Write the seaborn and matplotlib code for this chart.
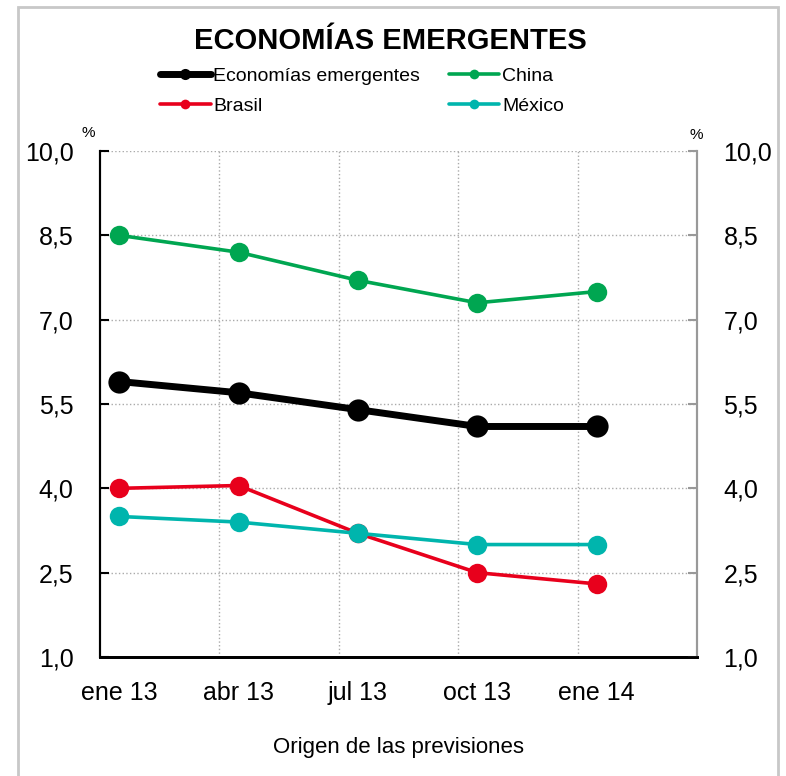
import pandas as pd
import matplotlib
matplotlib.use('Agg')
import matplotlib.pyplot as plt
import seaborn as sns
from matplotlib.patches import Rectangle
from matplotlib.ticker import FixedLocator

## --- datos (previsiones de crecimiento 2014, %)
fechas = ['ene 13', 'abr 13', 'jul 13', 'oct 13', 'ene 14']
emergentes = [5.9, 5.7, 5.4, 5.1, 5.1]
china = [8.5, 8.2, 7.7, 7.3, 7.5]
brasil = [4.0, 4.05, 3.2, 2.5, 2.3]
mexico = [3.5, 3.4, 3.2, 3.0, 3.0]

y_ticks = [1.0, 2.5, 4.0, 5.5, 7.0, 8.5, 10.0]

dados = pd.DataFrame({
    'pos': range(len(fechas)),
    'Economías emergentes': emergentes,
    'China': china,
    'Brasil': brasil,
    'México': mexico,
})

sns.set_style('white')
plt.rcParams['font.family'] = ['Liberation Sans', 'DejaVu Sans']
plt.rcParams['text.color'] = 'black'
plt.rcParams['xtick.color'] = 'black'
plt.rcParams['ytick.color'] = 'black'
plt.rcParams['axes.labelcolor'] = 'black'

fig = plt.figure(figsize=(7.86, 7.76), dpi=100)
ax = fig.add_axes([100 / 786, 1 - 657 / 776, 597 / 786, 506 / 776])

# estilo de cada serie
estilos = {
    'Economías emergentes': dict(color='black', linewidth=5, markersize=16),
    'China': dict(color='#00A651', linewidth=2.6, markersize=14),
    'Brasil': dict(color='#E8001C', linewidth=2.6, markersize=14),
    'México': dict(color='#00B5AD', linewidth=2.6, markersize=14),
}

for serie, est in estilos.items():
    sns.lineplot(
        data=dados, x='pos', y=serie, ax=ax,
        marker='o', markeredgewidth=0, label=serie, legend=False,
        **est
    )

## --- ejes
etiquetas_y = [f'{v:.1f}'.replace('.', ',') for v in y_ticks]

ax.set_xlim(-0.16, 4.84)
ax.set_ylim(1, 10)
ax.set_xticks(range(len(fechas)))
ax.set_xticklabels(fechas, fontsize=18)
ax.xaxis.set_minor_locator(FixedLocator([0.84, 1.84, 2.84, 3.84]))
ax.set_yticks(y_ticks)
ax.set_yticklabels(etiquetas_y, fontsize=18)
ax.set_xlabel('Origen de las previsiones', fontsize=16, labelpad=23)
ax.set_ylabel('')

ax.tick_params(axis='x', which='both', length=0, pad=17)
ax.tick_params(axis='y', direction='in', length=6.5, width=1.5,
               left=True, right=False, pad=19)

# eje derecho (gris) con las mismas etiquetas
ax2 = ax.twinx()
ax2.set_ylim(1, 10)
ax2.set_yticks(y_ticks)
ax2.set_yticklabels(etiquetas_y, fontsize=18)
ax2.tick_params(axis='y', direction='in', length=6.5, width=1.5,
                color='#999999', labelcolor='black', pad=19)
ax2.grid(False)

ax.grid(axis='y', which='major', linestyle=':', color='#aaaaaa', linewidth=1)
ax.grid(axis='x', which='minor', linestyle=':', color='#aaaaaa', linewidth=1)
ax.grid(axis='x', which='major', visible=False)

for a in (ax, ax2):
    a.spines['top'].set_visible(False)
    a.spines['left'].set_color('black')
    a.spines['left'].set_linewidth(1.5)
    a.spines['bottom'].set_color('black')
    a.spines['bottom'].set_linewidth(2)
    a.spines['right'].set_color('#999999')
    a.spines['right'].set_linewidth(1.5)

fig.text(88 / 786, 1 - 133 / 776, '%', fontsize=11, ha='center', va='center')
fig.text(696 / 786, 1 - 135 / 776, '%', fontsize=11, ha='center', va='center')

## --- titulo y leyenda
fig.text(390 / 786, 1 - 41 / 776, 'ECONOMÍAS EMERGENTES',
         fontsize=21, fontweight='bold', ha='center', va='center')

handles, labels = ax.get_legend_handles_labels()
orden = ['Economías emergentes', 'Brasil', 'China', 'México']
hmap = dict(zip(labels, handles))
fig.legend(
    [hmap[k] for k in orden], orden,
    ncol=2, loc='upper left', bbox_to_anchor=(160 / 786, 1 - 67 / 776),
    frameon=False, fontsize=14, handlelength=2.6, handletextpad=0.15,
    columnspacing=1.45, labelspacing=0.66, borderpad=0, borderaxespad=0,
    markerscale=0.5
)

fig.add_artist(Rectangle((18 / 786, -0.02), 760 / 786, 1 - 7 / 776 + 0.02,
                         transform=fig.transFigure, fill=False,
                         edgecolor='#c8c8c8', linewidth=2))

plt.savefig('out.png', dpi=100)
